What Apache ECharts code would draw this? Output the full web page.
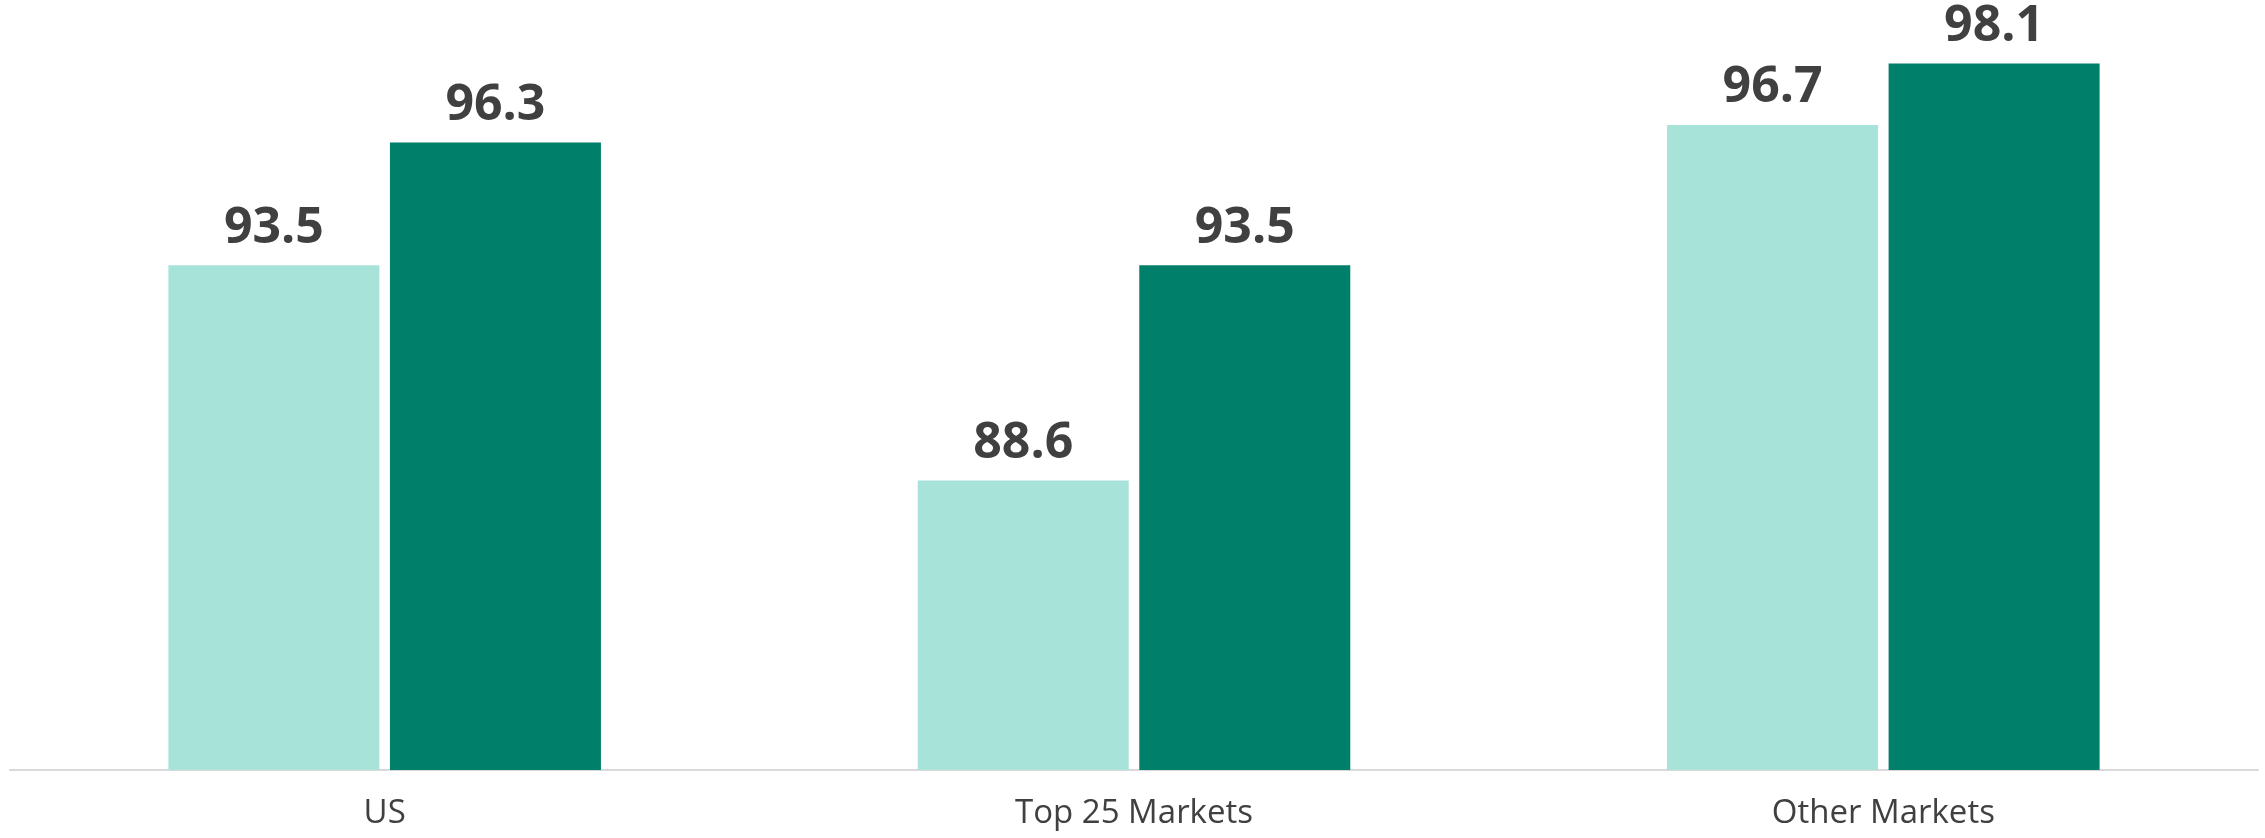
<!DOCTYPE html>
<html>
<head>
<meta charset="utf-8">
<script src="https://cdn.jsdelivr.net/npm/echarts@6/dist/echarts.min.js"></script>
<style>
  html, body { margin: 0; padding: 0; background: #fff; }
  #main { width: 2265px; height: 838px; }
</style>
</head>
<body>
<div id="main"></div>
<script>
const categories = ['US', 'Top 25 Markets', 'Other Markets']
const seriesLight = [93.5, 88.6, 96.7]
const seriesDark = [96.3, 93.5, 98.1]

const labelStyle = {
  show: true,
  position: 'top',
  distance: 12,
  color: '#404040',
  fontFamily: 'Open Sans',
  fontWeight: 'bold',
  fontSize: 50,
}

const chart = echarts.init(document.getElementById('main'))

const option = {
  animation: false,
  grid: {
    left: 10,
    right: 7,
    top: 24,
    bottom: 68,
  },
  xAxis: {
    type: 'category',
    data: categories,
    axisLine: { lineStyle: { color: '#D9D9D9', width: 2 } },
    axisTick: { show: false },
    axisLabel: {
      color: '#404040',
      fontFamily: 'Open Sans',
      fontSize: 33,
      margin: 27,
    },
  },
  yAxis: {
    type: 'value',
    min: 82,
    max: 99,
    show: false,
  },
  series: [
    {
      type: 'bar',
      data: seriesLight,
      barWidth: 211,
      barGap: '5%',
      itemStyle: { color: '#A8E3DA' },
      label: labelStyle,
    },
    {
      type: 'bar',
      data: seriesDark,
      barWidth: 211,
      barGap: '5%',
      itemStyle: { color: '#007F6A' },
      label: labelStyle,
    },
  ],
}

chart.setOption(option)
</script>
</body>
</html>
